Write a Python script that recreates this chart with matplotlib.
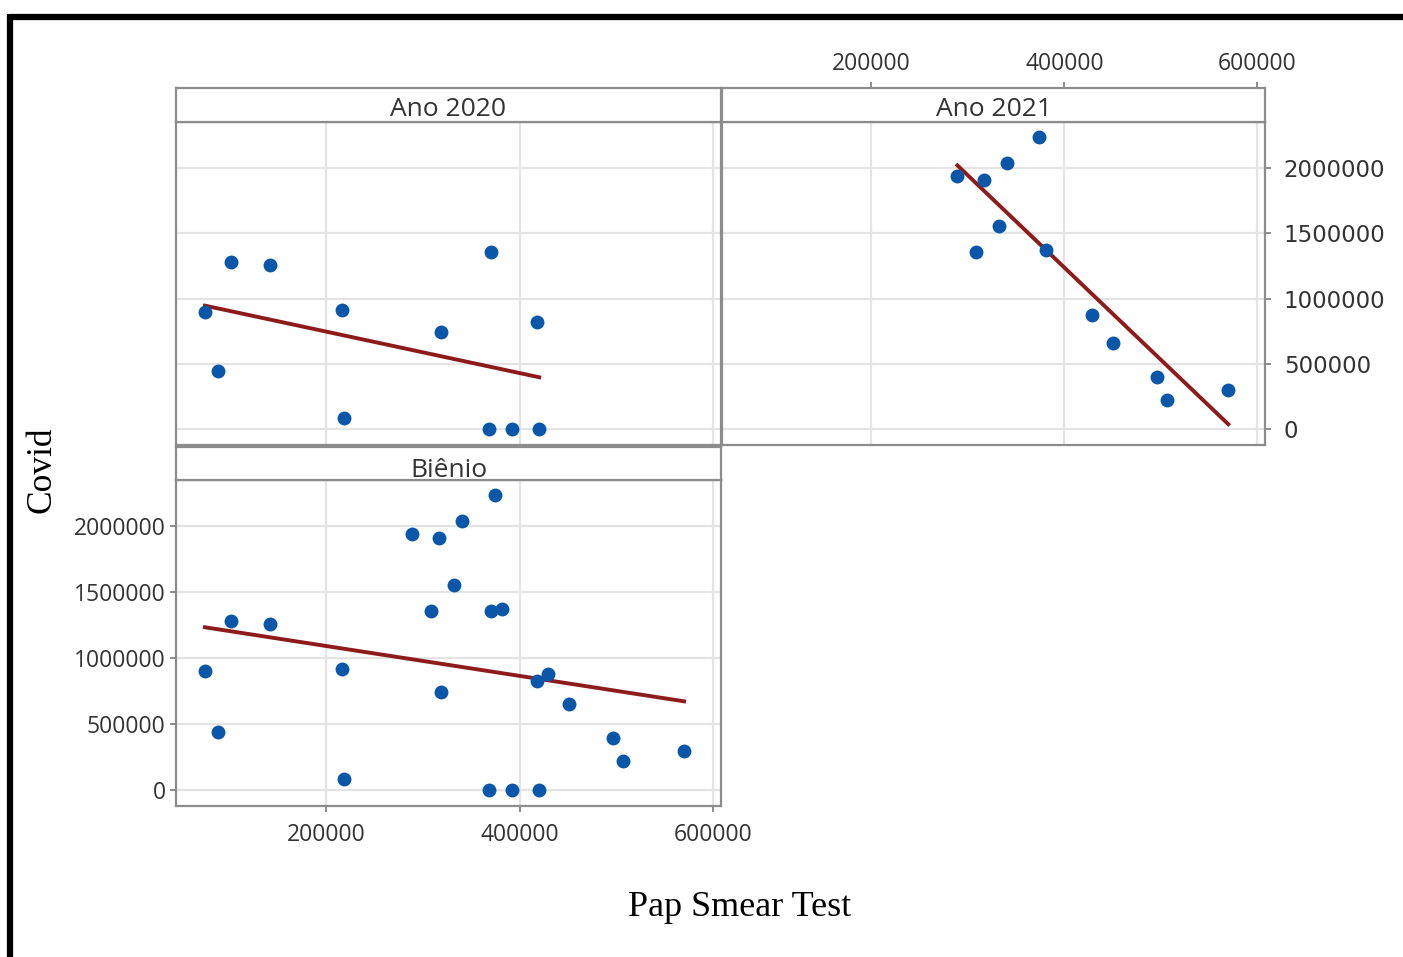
import matplotlib.pyplot as plt
import numpy as np
from matplotlib.lines import Line2D
from matplotlib.ticker import StrMethodFormatter

# Pap smear tests (x) and covid cases (y), one point per month
pap_2020 = [74900, 88400, 101800, 142100, 216500, 218600, 318900, 370600, 368500, 392200, 418000, 420200]
covid_2020 = [900800, 442700, 1282000, 1259500, 916000, 84000, 740500, 1358800, 0, 0, 824400, 0]

pap_2021 = [289100, 308800, 317100, 332600, 340900, 374100, 381300, 429000, 450800, 496400, 506700, 569900]
covid_2021 = [1938900, 1358800, 1908400, 1557300, 2038200, 2236600, 1374000, 877900, 656500, 397000, 221400, 297700]

# bienio = both years together
pap_bienio = pap_2020 + pap_2021
covid_bienio = covid_2020 + covid_2021

titles = ["Ano 2020", "Ano 2021", "Biênio"]
xticks = [200000, 400000, 600000]
yticks = [0, 500000, 1000000, 1500000, 2000000]

W, H = 1403, 957
fig = plt.figure(figsize=(W / 100, H / 100), dpi=100)

def box(x0, y0, x1, y1):
    # pixel box -> figure fraction
    return [x0 / W, (H - y1) / H, (x1 - x0) / W, (y1 - y0) / H]

edge = '#8c8c8c'
txt = '#333333'
tfont = 'Open Sans'
fmt = StrMethodFormatter('{x:.0f}')

def panel(pbox, sbox, xs, ys, title):
    ax = fig.add_axes(box(*pbox))
    ax.set_xlim(45000, 608000)
    ax.set_ylim(-120000, 2350000)
    ax.set_xticks(xticks)
    ax.set_yticks(yticks)
    ax.xaxis.set_major_formatter(fmt)
    ax.yaxis.set_major_formatter(fmt)
    ax.grid(True, color='#e4e4e4', lw=1.6)
    ax.set_axisbelow(True)
    for s in ax.spines.values():
        s.set_color(edge)
        s.set_linewidth(1.6)
    ax.scatter(xs, ys, s=100, color='#0a56a8', zorder=3, linewidths=0)
    # regression line
    b, a = np.polyfit(xs, ys, 1)
    xx = np.array([min(xs), max(xs)])
    ax.plot(xx, a + b * xx, color='#8e1b1b', lw=2.8, zorder=2)
    ax.tick_params(colors=edge, labelcolor=txt, labelsize=16.5, length=4.5, width=1.4)
    for lab in ax.get_xticklabels() + ax.get_yticklabels():
        lab.set_fontfamily(tfont)

    st = fig.add_axes(box(*sbox))
    st.set_xlim(ax.get_xlim())
    st.set_ylim(0, 1)
    st.set_yticks([])
    st.set_xticks([])
    for s in st.spines.values():
        s.set_color(edge)
        s.set_linewidth(1.6)
    st.text(0.5, 0.38 if title != "Biênio" else 0.28, title, transform=st.transAxes,
            ha='center', va='center', fontsize=19, color=txt, family=tfont)
    return ax, st

ax1, st1 = panel((176, 122, 721, 445), (176, 88, 721, 122), pap_2020, covid_2020, titles[0])
ax1.tick_params(labelbottom=False, labelleft=False, bottom=False, left=False)

ax2, st2 = panel((722, 122, 1265, 445), (722, 88, 1265, 122), pap_2021, covid_2021, titles[1])
ax2.tick_params(labelbottom=False, bottom=False, left=False, labelleft=False,
                right=True, labelright=True, pad=9)
st2.set_xticks(xticks)
st2.xaxis.set_major_formatter(fmt)
st2.tick_params(bottom=False, labelbottom=False, top=True, labeltop=True,
                colors=edge, labelcolor=txt, labelsize=16.5, length=4.5, width=1.4, pad=4)
for lab in st2.get_xticklabels():
    lab.set_fontfamily(tfont)

ax3, st3 = panel((176, 480, 721, 806), (176, 447, 721, 480), pap_bienio, covid_bienio, titles[2])
ax3.tick_params(axis='y', pad=3)
ax3.tick_params(axis='x', pad=8)

# axis titles
fig.text(42 / W, 1 - 470 / H, "Covid", rotation=90, ha='center', va='center',
         fontsize=25.5, family='Liberation Serif')
fig.text(740 / W, 1 - 907 / H, "Pap Smear Test", ha='center', va='center',
         fontsize=26, family='Liberation Serif')

# black frame at top and left
fig.add_artist(Line2D([10 / W, 1], [1 - 17 / H, 1 - 17 / H], color='black', lw=4.5,
                      transform=fig.transFigure, solid_capstyle='butt'))
fig.add_artist(Line2D([10 / W, 10 / W], [1 - 14 / H, 0], color='black', lw=4.5,
                      transform=fig.transFigure, solid_capstyle='butt'))

fig.savefig('out.png', dpi=100)
